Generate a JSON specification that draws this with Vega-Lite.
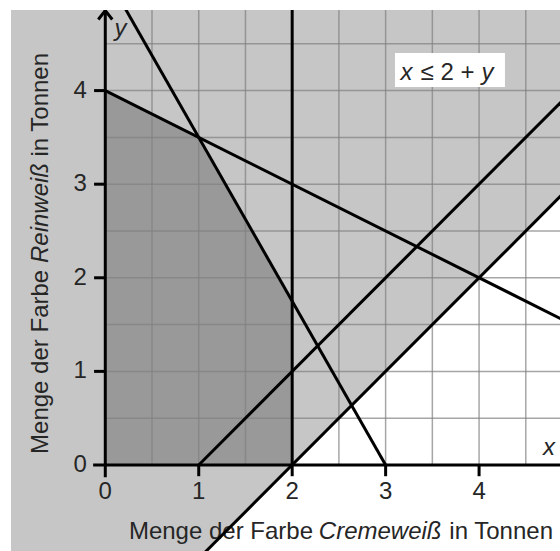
{
  "$schema": "https://vega.github.io/schema/vega-lite/v6.json",
  "width": 549,
  "height": 541,
  "autosize": "none",
  "padding": {"left": 11, "top": 10, "right": 0, "bottom": 0},
  "background": "white",
  "config": {"view": {"stroke": null}},
  "layer": [
    {
      "data": {"values": [
        {"x": -1.2, "y": -1.0, "y2": 5.0},
        {"x": 1.0, "y": -1.0, "y2": 5.0},
        {"x": 4.95, "y": 2.95, "y2": 5.0}
      ]},
      "mark": {"type": "area", "color": "#c6c6c6", "clip": true, "opacity": 1},
      "encoding": {
        "x": {"field": "x", "type": "quantitative", "axis": null, "scale": {"domain": [-1.009, 4.866], "nice": false, "zero": false}},
        "y": {"field": "y", "type": "quantitative", "axis": null, "scale": {"domain": [-0.919, 4.861], "nice": false, "zero": false}},
        "y2": {"field": "y2"}
      }
    },
    {
      "data": {"values": [
        {"x": 0, "y": 0, "y2": 4},
        {"x": 1, "y": 0, "y2": 3.5},
        {"x": 2, "y": 0, "y2": 1.75}
      ]},
      "mark": {"type": "area", "color": "#999999", "clip": true, "opacity": 1},
      "encoding": {
        "x": {"field": "x", "type": "quantitative"},
        "y": {"field": "y", "type": "quantitative"},
        "y2": {"field": "y2"}
      }
    },
    {
      "data": {"values": [
        {"g": 0.5, "a": 0, "b": 5}, {"g": 1, "a": 0, "b": 5}, {"g": 1.5, "a": 0, "b": 5},
        {"g": 2, "a": 0, "b": 5}, {"g": 2.5, "a": 0, "b": 5}, {"g": 3, "a": 0, "b": 5},
        {"g": 3.5, "a": 0, "b": 5}, {"g": 4, "a": 0, "b": 5}, {"g": 4.5, "a": 0, "b": 5}
      ]},
      "mark": {"type": "rule", "color": "#808080", "opacity": 0.7, "strokeWidth": 1.5, "clip": true},
      "encoding": {
        "x": {"field": "g", "type": "quantitative"},
        "y": {"field": "a", "type": "quantitative"},
        "y2": {"field": "b"}
      }
    },
    {
      "data": {"values": [
        {"g": 0.5, "a": 0, "b": 5}, {"g": 1, "a": 0, "b": 5}, {"g": 1.5, "a": 0, "b": 5},
        {"g": 2, "a": 0, "b": 5}, {"g": 2.5, "a": 0, "b": 5}, {"g": 3, "a": 0, "b": 5},
        {"g": 3.5, "a": 0, "b": 5}, {"g": 4, "a": 0, "b": 5}, {"g": 4.5, "a": 0, "b": 5}
      ]},
      "mark": {"type": "rule", "color": "#808080", "opacity": 0.7, "strokeWidth": 1.5, "clip": true},
      "encoding": {
        "y": {"field": "g", "type": "quantitative"},
        "x": {"field": "a", "type": "quantitative"},
        "x2": {"field": "b"}
      }
    },
    {
      "data": {"values": [{"x": 3.1, "x2": 4.277, "y": 4.402, "y2": 4.038}]},
      "mark": {"type": "rect", "color": "white"},
      "encoding": {
        "x": {"field": "x", "type": "quantitative"},
        "x2": {"field": "x2"},
        "y": {"field": "y", "type": "quantitative"},
        "y2": {"field": "y2"}
      }
    },
    {
      "data": {"values": [{"t": "Menge der Farbe", "x": 2.223, "y": -0.79}]},
      "mark": {"type": "text", "font": "Liberation Sans", "fontSize": 24, "color": "#262626", "align": "right", "baseline": "alphabetic"},
      "encoding": {
        "x": {"field": "x", "type": "quantitative"},
        "y": {"field": "y", "type": "quantitative"},
        "text": {"field": "t"}
      }
    },
    {
      "data": {"values": [{"t": "Cremeweiß", "x": 2.285, "y": -0.79}]},
      "mark": {"type": "text", "font": "Liberation Sans", "fontSize": 24, "fontStyle": "italic", "color": "#262626", "align": "left", "baseline": "alphabetic"},
      "encoding": {
        "x": {"field": "x", "type": "quantitative"},
        "y": {"field": "y", "type": "quantitative"},
        "text": {"field": "t"}
      }
    },
    {
      "data": {"values": [{"t": "in Tonnen", "x": 4.791, "y": -0.79}]},
      "mark": {"type": "text", "font": "Liberation Sans", "fontSize": 24, "color": "#262626", "align": "right", "baseline": "alphabetic"},
      "encoding": {
        "x": {"field": "x", "type": "quantitative"},
        "y": {"field": "y", "type": "quantitative"},
        "text": {"field": "t"}
      }
    },
    {
      "data": {"values": [
        {"line": "a", "i": 0, "x": 0, "y": 4}, {"line": "a", "i": 1, "x": 5, "y": 1.5},
        {"line": "b", "i": 0, "x": 0.1, "y": 5.075}, {"line": "b", "i": 1, "x": 3, "y": 0},
        {"line": "c", "i": 0, "x": 2, "y": 0}, {"line": "c", "i": 1, "x": 2, "y": 5},
        {"line": "d", "i": 0, "x": 1, "y": 0}, {"line": "d", "i": 1, "x": 5, "y": 4},
        {"line": "e", "i": 0, "x": 1, "y": -1}, {"line": "e", "i": 1, "x": 5, "y": 3},
        {"line": "yaxis", "i": 0, "x": 0, "y": -0.13}, {"line": "yaxis", "i": 1, "x": 0, "y": 4.861},
        {"line": "xaxis", "i": 0, "x": -0.13, "y": 0}, {"line": "xaxis", "i": 1, "x": 5, "y": 0},
        {"line": "arrow", "i": 0, "x": -0.075, "y": 4.76}, {"line": "arrow", "i": 1, "x": 0, "y": 4.855}, {"line": "arrow", "i": 2, "x": 0.075, "y": 4.76}
      ]},
      "mark": {"type": "line", "color": "black", "strokeWidth": 3, "clip": true, "strokeCap": "butt"},
      "encoding": {
        "x": {"field": "x", "type": "quantitative"},
        "y": {"field": "y", "type": "quantitative"},
        "detail": {"field": "line"},
        "order": {"field": "i"}
      }
    },
    {
      "data": {"values": [
        {"t": 1, "a": 0, "b": -0.12}, {"t": 2, "a": 0, "b": -0.12},
        {"t": 3, "a": 0, "b": -0.12}, {"t": 4, "a": 0, "b": -0.12}
      ]},
      "mark": {"type": "rule", "color": "black", "strokeWidth": 3},
      "encoding": {
        "x": {"field": "t", "type": "quantitative"},
        "y": {"field": "a", "type": "quantitative"},
        "y2": {"field": "b"}
      }
    },
    {
      "data": {"values": [
        {"t": 1, "a": 0, "b": -0.12}, {"t": 2, "a": 0, "b": -0.12},
        {"t": 3, "a": 0, "b": -0.12}, {"t": 4, "a": 0, "b": -0.12}
      ]},
      "mark": {"type": "rule", "color": "black", "strokeWidth": 3},
      "encoding": {
        "y": {"field": "t", "type": "quantitative"},
        "x": {"field": "a", "type": "quantitative"},
        "x2": {"field": "b"}
      }
    },
    {
      "data": {"values": [
        {"t": "0", "x": 0, "y": -0.365}, {"t": "1", "x": 1, "y": -0.365},
        {"t": "2", "x": 2, "y": -0.365}, {"t": "3", "x": 3, "y": -0.365},
        {"t": "4", "x": 4, "y": -0.365}
      ]},
      "mark": {"type": "text", "font": "Liberation Sans", "fontSize": 24, "color": "#262626", "align": "center", "baseline": "alphabetic"},
      "encoding": {
        "x": {"field": "x", "type": "quantitative"},
        "y": {"field": "y", "type": "quantitative"},
        "text": {"field": "t"}
      }
    },
    {
      "data": {"values": [
        {"t": "0", "x": -0.196, "y": 0}, {"t": "1", "x": -0.196, "y": 1},
        {"t": "2", "x": -0.196, "y": 2}, {"t": "3", "x": -0.196, "y": 3},
        {"t": "4", "x": -0.196, "y": 4}
      ]},
      "mark": {"type": "text", "font": "Liberation Sans", "fontSize": 24, "color": "#262626", "align": "right", "baseline": "middle"},
      "encoding": {
        "x": {"field": "x", "type": "quantitative"},
        "y": {"field": "y", "type": "quantitative"},
        "text": {"field": "t"}
      }
    },
    {
      "data": {"values": [{"t": "Menge der Farbe", "x": -0.613, "y": 0.118}]},
      "mark": {"type": "text", "font": "Liberation Sans", "fontSize": 24, "color": "#262626", "align": "left", "baseline": "alphabetic", "angle": 270},
      "encoding": {
        "x": {"field": "x", "type": "quantitative"},
        "y": {"field": "y", "type": "quantitative"},
        "text": {"field": "t"}
      }
    },
    {
      "data": {"values": [{"t": "Reinweiß", "x": -0.613, "y": 2.158}]},
      "mark": {"type": "text", "font": "Liberation Sans", "fontSize": 24, "fontStyle": "italic", "color": "#262626", "align": "left", "baseline": "alphabetic", "angle": 270},
      "encoding": {
        "x": {"field": "x", "type": "quantitative"},
        "y": {"field": "y", "type": "quantitative"},
        "text": {"field": "t"}
      }
    },
    {
      "data": {"values": [{"t": "in Tonnen", "x": -0.613, "y": 4.402}]},
      "mark": {"type": "text", "font": "Liberation Sans", "fontSize": 24, "color": "#262626", "align": "right", "baseline": "alphabetic", "angle": 270},
      "encoding": {
        "x": {"field": "x", "type": "quantitative"},
        "y": {"field": "y", "type": "quantitative"},
        "text": {"field": "t"}
      }
    },
    {
      "data": {"values": [
        {"t": "y", "x": 0.163, "y": 4.583},
        {"t": "x", "x": 4.748, "y": 0.107},
        {"t": "x", "x": 3.223, "y": 4.113},
        {"t": "y", "x": 4.09, "y": 4.113}
      ]},
      "mark": {"type": "text", "font": "Liberation Sans", "fontSize": 24, "fontStyle": "italic", "color": "#262626", "align": "center", "baseline": "alphabetic"},
      "encoding": {
        "x": {"field": "x", "type": "quantitative"},
        "y": {"field": "y", "type": "quantitative"},
        "text": {"field": "t"}
      }
    },
    {
      "data": {"values": [{"t": "≤ 2 +", "x": 3.662, "y": 4.113}]},
      "mark": {"type": "text", "font": "Liberation Sans", "fontSize": 24, "color": "#262626", "align": "center", "baseline": "alphabetic"},
      "encoding": {
        "x": {"field": "x", "type": "quantitative"},
        "y": {"field": "y", "type": "quantitative"},
        "text": {"field": "t"}
      }
    }
  ]
}
